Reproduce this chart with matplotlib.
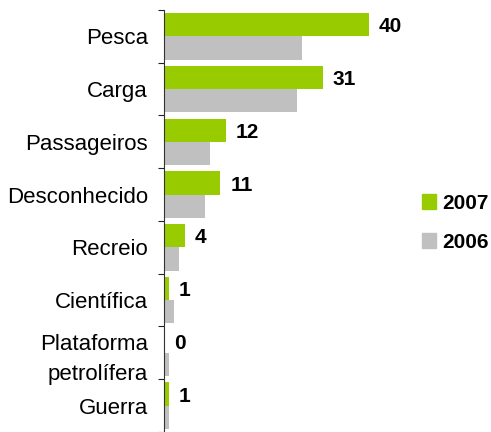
"""Horizontal grouped bars: incidents by vessel type, 2007 vs 2006."""

import matplotlib

matplotlib.use("Agg")
import matplotlib.pyplot as plt
import numpy as np
from matplotlib.patches import Patch

plt.rcParams["font.family"] = ["Liberation Sans", "DejaVu Sans"]

categories = ["Pesca", "Carga", "Passageiros", "Desconhecido", "Recreio",
              "Científica", "Plataforma\npetrolífera", "Guerra"]
values_2007 = [40, 31, 12, 11, 4, 1, 0, 1]
values_2006 = [27, 26, 9, 8, 3, 2, 1, 1]
series_labels = ["2007", "2006"]

GREEN = "#99CC00"
GREY = "#C0C0C0"

fig = plt.figure(figsize=(4.91, 4.32), dpi=100)
ax = fig.add_axes([0.334, 0.0, 0.47, 0.977])

y = np.arange(len(categories))
h = 0.44
ax.barh(y - h / 2, values_2007, height=h, color=GREEN, label=series_labels[0])
ax.barh(y + h / 2, values_2006, height=h, color=GREY, label=series_labels[1])

for yi, v in zip(y, values_2007):
    ax.annotate(str(v), (v, yi - h / 2), xytext=(7, -1.5), textcoords="offset points",
                ha="left", va="center", fontsize=15, fontweight="bold")

ax.set_xlim(0, 45)
ax.set_ylim(len(categories) - 0.5, -0.5)

# category boundaries get tick marks, labels sit at the centres
ax.set_yticks(np.arange(len(categories) + 1) - 0.5)
ax.set_yticklabels([])
ax.tick_params(axis="y", which="major", length=4.5, width=0.8, direction="out", color="#222222")
ax.set_yticks(y, minor=True)
ax.set_yticklabels(categories, minor=True, fontsize=16, linespacing=1.55)
ax.tick_params(axis="y", which="minor", length=0, pad=11.5)

ax.set_xticks([])
for side in ["top", "right", "bottom"]:
    ax.spines[side].set_visible(False)
ax.spines["left"].set_color("#333333")
ax.spines["left"].set_linewidth(0.8)

handles = [Patch(color=GREEN), Patch(color=GREY)]
fig.legend(handles, series_labels, loc="center left", bbox_to_anchor=(0.859, 0.484),
           frameon=False, borderpad=0, borderaxespad=0,
           handlelength=0.7, handleheight=0.7, handletextpad=0.3,
           labelspacing=0.95, prop={"size": 15, "weight": "bold"})

fig.savefig("out.png", dpi=100)
plt.close(fig)
